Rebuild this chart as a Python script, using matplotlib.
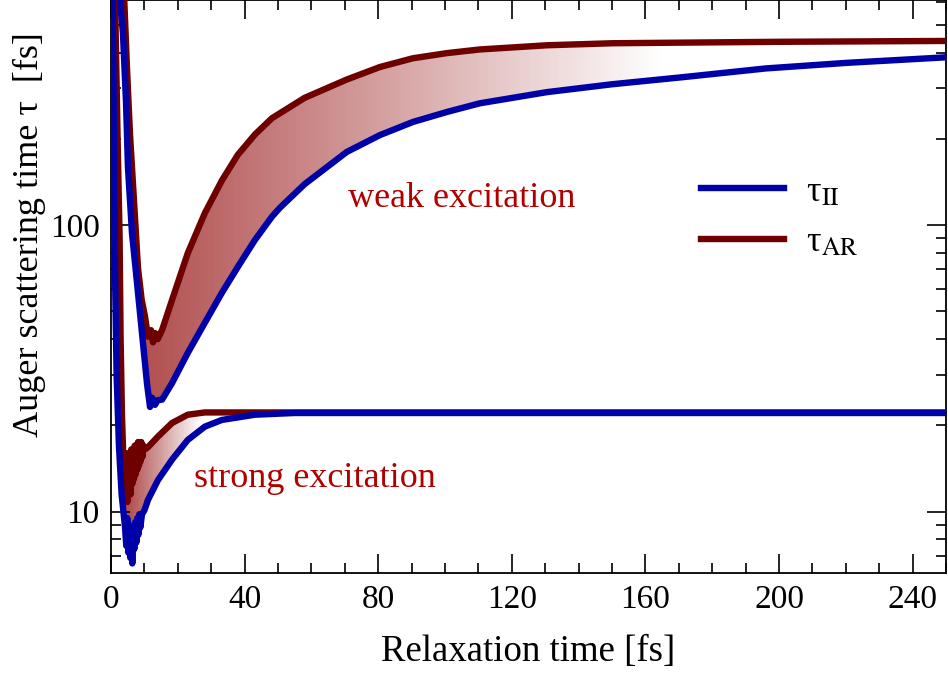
import numpy as np
import matplotlib
matplotlib.use('Agg')
import matplotlib.pyplot as plt
from matplotlib.colors import LinearSegmentedColormap, Normalize
from matplotlib.patches import Polygon
from matplotlib.ticker import MultipleLocator, LogLocator, FixedLocator, FixedFormatter

plt.rcParams['font.family'] = 'serif'
plt.rcParams['font.serif'] = ['Liberation Serif', 'DejaVu Serif']
plt.rcParams['mathtext.fontset'] = 'stix'

# weak excitation
weak_ii_t = [2.5, 3.6, 4.5, 5.1, 6.3, 7.8, 9.3, 10.8, 11.7, 12.3, 13.2, 14.0, 15.3, 18.3,
             23.0, 28.1, 33.2, 38.0, 43.1, 48.2, 50.6, 58.0, 60.4, 70.6, 80.5, 90.4,
             100.5, 110.4, 130.5, 150.0, 171.0, 196.0, 220.0, 250.0]
weak_ii_tau = [650, 467, 272, 159, 94, 63, 42, 28, 23.2, 25, 23.6, 24.5, 24.6, 28.1,
               35.8, 45.6, 58, 71.5, 88.7, 107, 115, 139, 146, 180, 206, 229,
               248, 266, 291, 310, 328, 352, 368, 385]

weak_ar_t = [3.9, 4.8, 5.7, 6.9, 8.1, 9.2, 10.2, 11.1, 12.0, 12.6, 13.2, 14.0, 15.3, 18.3,
             23.0, 28.1, 33.2, 38.0, 43.1, 48.2, 58.0, 70.6, 80.5, 90.4, 100.5, 110.4,
             130.5, 150.2, 200.0, 250.0]
weak_ar_tau = [650, 355, 209, 122, 71, 55, 48, 40.8, 43, 39, 42, 40, 43, 54.8,
               79.8, 110, 143, 176, 207, 236, 278, 322, 356, 382, 398, 410,
               424, 431, 436, 439]

# strong excitation
strong_ii_t = [0.4, 0.8, 1.0, 1.3, 1.7, 2.4, 3.2, 4.2, 4.6, 4.9, 5.2, 5.5, 5.8, 6.1, 6.4,
               6.7, 7.0, 7.3, 7.6, 7.9, 8.2, 8.5, 8.8, 9.3, 10.0, 11.1, 14.1, 18.3, 23.0,
               28.1, 33.2, 43.1, 55.0, 250.0]
strong_ii_tau = [700, 300, 120, 60, 30, 17, 11.5, 8.9, 7.6, 9.5, 7.2, 9.0, 6.9, 8.5, 6.6,
                 8.7, 7.4, 9.2, 7.8, 9.5, 8.3, 9.8, 8.8, 9.8, 10.1, 11, 12.9, 15.2, 17.8,
                 19.8, 20.9, 21.8, 22.1, 22.1]

strong_ar_t = [1.2, 2.0, 2.6, 2.9, 3.3, 3.6, 3.9, 4.1, 4.4, 4.6, 4.9, 5.1, 5.4, 5.6, 5.9,
               6.1, 6.4, 6.6, 6.9, 7.1, 7.4, 7.6, 7.9, 8.1, 8.4, 8.6, 8.9, 9.1, 9.4, 9.7,
               10.2, 11.1, 14.1, 18.3, 23.0, 28.1, 250.0]
strong_ar_tau = [650, 200, 90, 40, 22, 17, 12, 16, 11, 15, 10.8, 16, 12, 15.5, 11.5,
                 16.5, 12.5, 16, 13, 17, 13.5, 16.5, 14, 17.5, 14.5, 17, 15, 17.5, 15.5, 17,
                 16.5, 16.8, 18.3, 20.4, 21.8, 22.2, 22.2]

BLUE = '#0000a8'
RED = '#6e0000'
TXT = '#b00000'
SHADE = (0.62, 0.14, 0.14)


def gradient_fill(ax, top_t, top_tau, bot_t, bot_tau, x0, x1, a0):
    xs = np.concatenate([top_t, bot_t[::-1]])
    ys = np.concatenate([top_tau, bot_tau[::-1]])
    poly = Polygon(np.column_stack([xs, ys]), closed=True, facecolor='none',
                   edgecolor='none', transform=ax.transData)
    ax.add_patch(poly)
    cmap = LinearSegmentedColormap.from_list('fade', [SHADE + (a0,), SHADE + (0.0,)])
    xe = np.linspace(0, 250, 501)
    ye = np.array([5, 800])
    xc = 0.5 * (xe[1:] + xe[:-1])
    C = xc[np.newaxis, :]
    mesh = ax.pcolormesh(xe, ye, C, cmap=cmap, norm=Normalize(x0, x1),
                         shading='flat', zorder=1, edgecolors='none', antialiased=False)
    mesh.set_clip_path(poly)


fig = plt.figure(figsize=(9.48, 6.80), dpi=100)
ax = fig.add_axes([0.117, 0.157, 0.881, 0.843])
ax.set_yscale('log')

gradient_fill(ax, np.array(weak_ar_t), np.array(weak_ar_tau),
              np.array(weak_ii_t), np.array(weak_ii_tau), 10, 165, 0.8)
gradient_fill(ax, np.array(strong_ar_t), np.array(strong_ar_tau),
              np.array(strong_ii_t), np.array(strong_ii_tau), 6, 27, 0.78)

lw = 4.6
ax.plot(weak_ar_t, weak_ar_tau, color=RED, lw=lw, zorder=3, solid_joinstyle='round')
ax.plot(strong_ar_t, strong_ar_tau, color=RED, lw=lw, zorder=3, solid_joinstyle='round')
l1, = ax.plot(weak_ii_t, weak_ii_tau, color=BLUE, lw=lw, zorder=4, solid_joinstyle='round')
ax.plot(strong_ii_t, strong_ii_tau, color=BLUE, lw=lw, zorder=4, solid_joinstyle='round')
l2, = ax.plot([], [], color=RED, lw=lw)

ax.text(105, 124, 'weak excitation', color=TXT, fontsize=26, ha='center', va='center')
ax.text(61, 13.1, 'strong excitation', color=TXT, fontsize=26, ha='center', va='center')

leg = ax.legend([l1, l2], ['\u03c4$_{\\mathrm{II}}$', '\u03c4$_{\\mathrm{AR}}$'],
                loc='upper left', bbox_to_anchor=(0.668, 0.75), frameon=False,
                fontsize=26, handlelength=2.3, handletextpad=0.6, labelspacing=0.47)

ax.set_xlim(0, 250)
ax.set_ylim(6.1, 610)

ax.xaxis.set_major_locator(MultipleLocator(40))
ax.xaxis.set_minor_locator(MultipleLocator(10))
ax.yaxis.set_major_locator(FixedLocator([10, 100]))
ax.yaxis.set_major_formatter(FixedFormatter(['10', '100']))
ax.yaxis.set_minor_locator(LogLocator(base=10, subs=np.arange(2, 10)))
ax.yaxis.set_minor_formatter(FixedFormatter([]))

ax.tick_params(which='both', direction='in', top=True, right=True, labelsize=24, width=1.2)
ax.tick_params(which='major', length=14, pad=8)
ax.tick_params(which='minor', length=7)
for s in ax.spines.values():
    s.set_linewidth(1.3)

ax.set_xlabel('Relaxation time [fs]', fontsize=26.5, labelpad=14)
ax.set_ylabel('Auger scattering time \u03c4  [fs]', fontsize=26, labelpad=4)
ax.yaxis.set_label_coords(-0.078, 0.59)

fig.savefig('out.png', dpi=100)
